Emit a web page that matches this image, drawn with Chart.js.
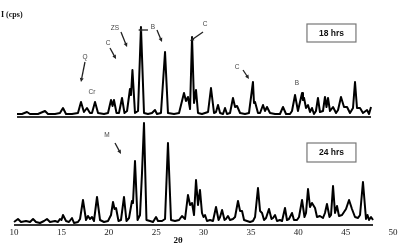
<!DOCTYPE html>
<html><head><meta charset="utf-8">
<script src="https://cdn.jsdelivr.net/npm/chart.js@4.4.0/dist/chart.umd.min.js"></script>
<style>html,body{margin:0;padding:0;background:#fff}#wrap{width:400px;height:247px;position:relative}</style>
</head><body><div id="wrap"><canvas id="c" width="400" height="247"></canvas></div>
<script>
// 2θ (deg) and intensity (arbitrary units)
const theta18 = [10.32,10.84,11.37,11.69,12.53,13.27,13.59,14.33,14.85,15.17,15.49,16.12,16.75,17.07,17.38,17.70,18.02,18.23,18.55,18.87,19.50,19.92,20.24,20.40,20.55,20.82,21.08,21.40,21.66,21.93,22.24,22.35,22.50,22.77,23.09,23.40,23.72,24.14,24.56,24.88,25.09,25.51,25.94,26.25,26.89,27.42,27.94,28.15,28.36,28.58,28.79,29.00,29.21,29.42,29.84,30.16,30.48,30.79,31.11,31.32,31.53,31.75,32.06,32.27,32.48,32.80,33.11,33.33,33.54,33.86,34.38,34.80,35.22,35.33,35.44,35.75,35.97,36.28,36.49,36.70,37.02,37.55,38.07,38.39,38.71,39.13,39.34,39.66,39.97,40.40,40.50,40.61,40.82,41.03,41.24,41.45,41.66,41.87,42.08,42.29,42.61,42.82,42.98,43.14,43.35,43.67,43.99,44.20,44.51,44.83,45.15,45.46,45.78,45.99,46.20,46.52,46.83,47.26,47.47,47.68];
const int18 = [3,3,5,3,3,6,3,3,4,9,3,3,4,15,5,9,4,4,15,4,3,4,17,11,17,4,4,19,4,6,28,22,47,4,6,90,4,3,4,7,3,4,65,4,3,4,24,16,20,8,80,14,27,4,3,4,5,29,4,5,12,4,3,9,3,4,19,10,11,4,3,4,35,14,15,4,4,12,6,10,4,3,3,10,3,3,6,22,6,24,17,19,9,12,5,9,3,6,19,5,6,20,10,19,6,10,4,7,20,10,10,4,9,35,9,9,4,7,3,10];

const theta24 = [10.00,10.42,10.74,11.27,11.69,12.01,12.32,12.74,13.17,13.48,13.80,14.33,14.64,14.85,15.01,15.17,15.49,15.80,16.12,16.33,16.75,16.97,17.28,17.60,17.81,18.02,18.23,18.44,18.76,19.08,19.50,19.92,20.24,20.45,20.61,20.77,21.03,21.29,21.61,21.87,22.14,22.45,22.56,22.77,23.04,23.30,23.51,23.72,23.98,24.35,24.67,24.99,25.20,25.62,25.94,26.25,26.57,26.99,27.42,27.73,28.05,28.36,28.58,28.79,29.00,29.21,29.42,29.63,29.84,30.00,30.16,30.37,30.69,31.00,31.32,31.59,31.75,31.96,32.22,32.37,32.58,32.80,33.11,33.33,33.64,33.86,34.07,34.28,34.59,34.91,35.22,35.44,35.75,35.97,36.18,36.39,36.60,36.91,37.18,37.34,37.55,37.76,38.07,38.29,38.60,38.81,39.02,39.34,39.55,39.87,40.08,40.40,40.66,40.82,41.03,41.24,41.45,41.77,41.98,42.29,42.61,42.82,43.03,43.30,43.46,43.67,43.88,44.09,44.30,44.62,45.04,45.36,45.67,45.99,46.31,46.52,46.83,47.15,47.31,47.47,47.68,47.89];
const int24 = [3,6,3,4,3,6,3,2,4,6,3,4,3,6,5,10,4,3,7,2,3,6,25,5,9,6,8,4,28,5,3,4,10,23,16,17,4,5,28,4,7,24,22,64,5,10,52,102,5,4,3,8,4,4,6,82,5,4,5,9,6,30,20,22,10,45,20,35,12,8,10,4,5,4,18,5,8,15,5,6,9,5,6,8,24,14,14,5,4,3,4,8,37,14,12,5,7,16,6,7,10,4,5,4,17,5,6,12,5,5,8,25,8,12,36,18,22,17,8,9,7,12,21,8,10,39,12,19,9,10,16,25,16,8,7,10,43,6,10,5,8,5];

const xTicks = [10,15,20,25,30,35,40,45,50];
const upperOffset = 108;

const peakLabels = [
  {t:'Q', x:17.49, y:168}, {t:'Cr', x:18.23, y:133}, {t:'C', x:19.92, y:182},
  {t:'ZS', x:20.66, y:197}, {t:'B', x:24.67, y:198}, {t:'C', x:30.16, y:201},
  {t:'C', x:33.54, y:158}, {t:'B', x:39.87, y:142}, {t:'M', x:19.82, y:90}
];
const arrows = [
  [17.49,163,17.07,143],[20.13,177,20.77,166],[21.29,193,21.93,178],
  [25.09,195,25.62,183],[24.14,195,23.09,195],[29.95,193,28.58,184],
  [34.17,155,34.80,146],[20.66,82,21.29,71]
];
const boxes = [
  {t:'18 hrs', x0:40.92, x1:46.09, y0:201, y1:183},
  {t:'24 hrs', x0:40.92, x1:46.09, y0:82, y1:63}
];

const upperData = theta18.map((x,i)=>({x:x, y:int18[i]+upperOffset}));
const lowerData = theta24.map((x,i)=>({x:x, y:int24[i]}));
const upperBase = [{x:theta18[0], y:upperOffset},{x:theta18[theta18.length-1], y:upperOffset}];
const lowerBase = [{x:theta24[0], y:0},{x:theta24[theta24.length-1], y:0}];

const annot = {
  id:'annot',
  afterDatasetsDraw(chart){
    const ctx = chart.ctx, xs = chart.scales.x, ys = chart.scales.y;
    const px = v=>xs.getPixelForValue(v), py = v=>ys.getPixelForValue(v);
    ctx.save();
    ctx.strokeStyle = '#222'; ctx.fillStyle = '#222'; ctx.lineWidth = 1.3;
    arrows.forEach(a=>{
      const x1=px(a[0]), y1=py(a[1]), x2=px(a[2]), y2=py(a[3]);
      const ang = Math.atan2(y2-y1, x2-x1), h=4.5;
      ctx.beginPath(); ctx.moveTo(x1,y1);
      ctx.lineTo(x2-Math.cos(ang)*h*0.8, y2-Math.sin(ang)*h*0.8); ctx.stroke();
      ctx.beginPath(); ctx.moveTo(x2,y2);
      ctx.lineTo(x2-h*Math.cos(ang-0.45), y2-h*Math.sin(ang-0.45));
      ctx.lineTo(x2-h*Math.cos(ang+0.45), y2-h*Math.sin(ang+0.45));
      ctx.closePath(); ctx.fill();
    });
    ctx.fillStyle = '#444'; ctx.font = '6.5px "Liberation Sans", Arial, sans-serif';
    ctx.textAlign = 'center'; ctx.textBaseline = 'middle';
    peakLabels.forEach(l=>ctx.fillText(l.t, px(l.x), py(l.y)));
    boxes.forEach(b=>{
      const x0=px(b.x0), x1=px(b.x1), y0=py(b.y0), y1=py(b.y1);
      ctx.fillStyle='#fff'; ctx.fillRect(x0,y0,x1-x0,y1-y0);
      ctx.strokeStyle='#777'; ctx.lineWidth=1.2; ctx.strokeRect(x0,y0,x1-x0,y1-y0);
      ctx.fillStyle='#111'; ctx.font='bold 8.5px "Liberation Sans", Arial, sans-serif';
      ctx.fillText(b.t,(x0+x1)/2,(y0+y1)/2+0.5);
    });
    ctx.fillStyle='#111';
    ctx.font='bold 8px "Liberation Serif", "Times New Roman", serif';
    ctx.textAlign='left'; ctx.fillText('I (cps)', 1, 15);
    ctx.font='bold 9px "Liberation Serif", "Times New Roman", serif';
    ctx.textAlign='center'; ctx.fillText('2θ', px(27.31), chart.chartArea.bottom+16);
    ctx.restore();
  }
};

new Chart(document.getElementById('c'), {
  type:'line',
  data:{datasets:[
    {data:upperData, borderColor:'#000', borderWidth:2},
    {data:lowerData, borderColor:'#000', borderWidth:2},
    {data:upperBase, borderColor:'#333', borderWidth:1.8},
    {data:lowerBase, borderColor:'#333', borderWidth:2}
  ]},
  options:{
    responsive:false, animation:false,
    elements:{point:{radius:0}, line:{tension:0, borderJoinStyle:'round'}},
    datasets:{line:{clip:false}},
    layout:{padding:{left:14, right:7, top:20, bottom:0}},
    plugins:{legend:{display:false}, tooltip:{enabled:false}},
    scales:{
      x:{type:'linear', min:10, max:50,
        afterBuildTicks(s){ s.ticks = xTicks.map(v=>({value:v})); },
        afterFit(s){ s.height = 22; },
        ticks:{color:'#222', padding:2, font:{family:'"Liberation Serif", "Times New Roman", serif', size:9}},
        grid:{display:false, drawTicks:false}, border:{display:false}},
      y:{display:false, min:0, max:205}
    }
  },
  plugins:[annot]
});
</script></body></html>
